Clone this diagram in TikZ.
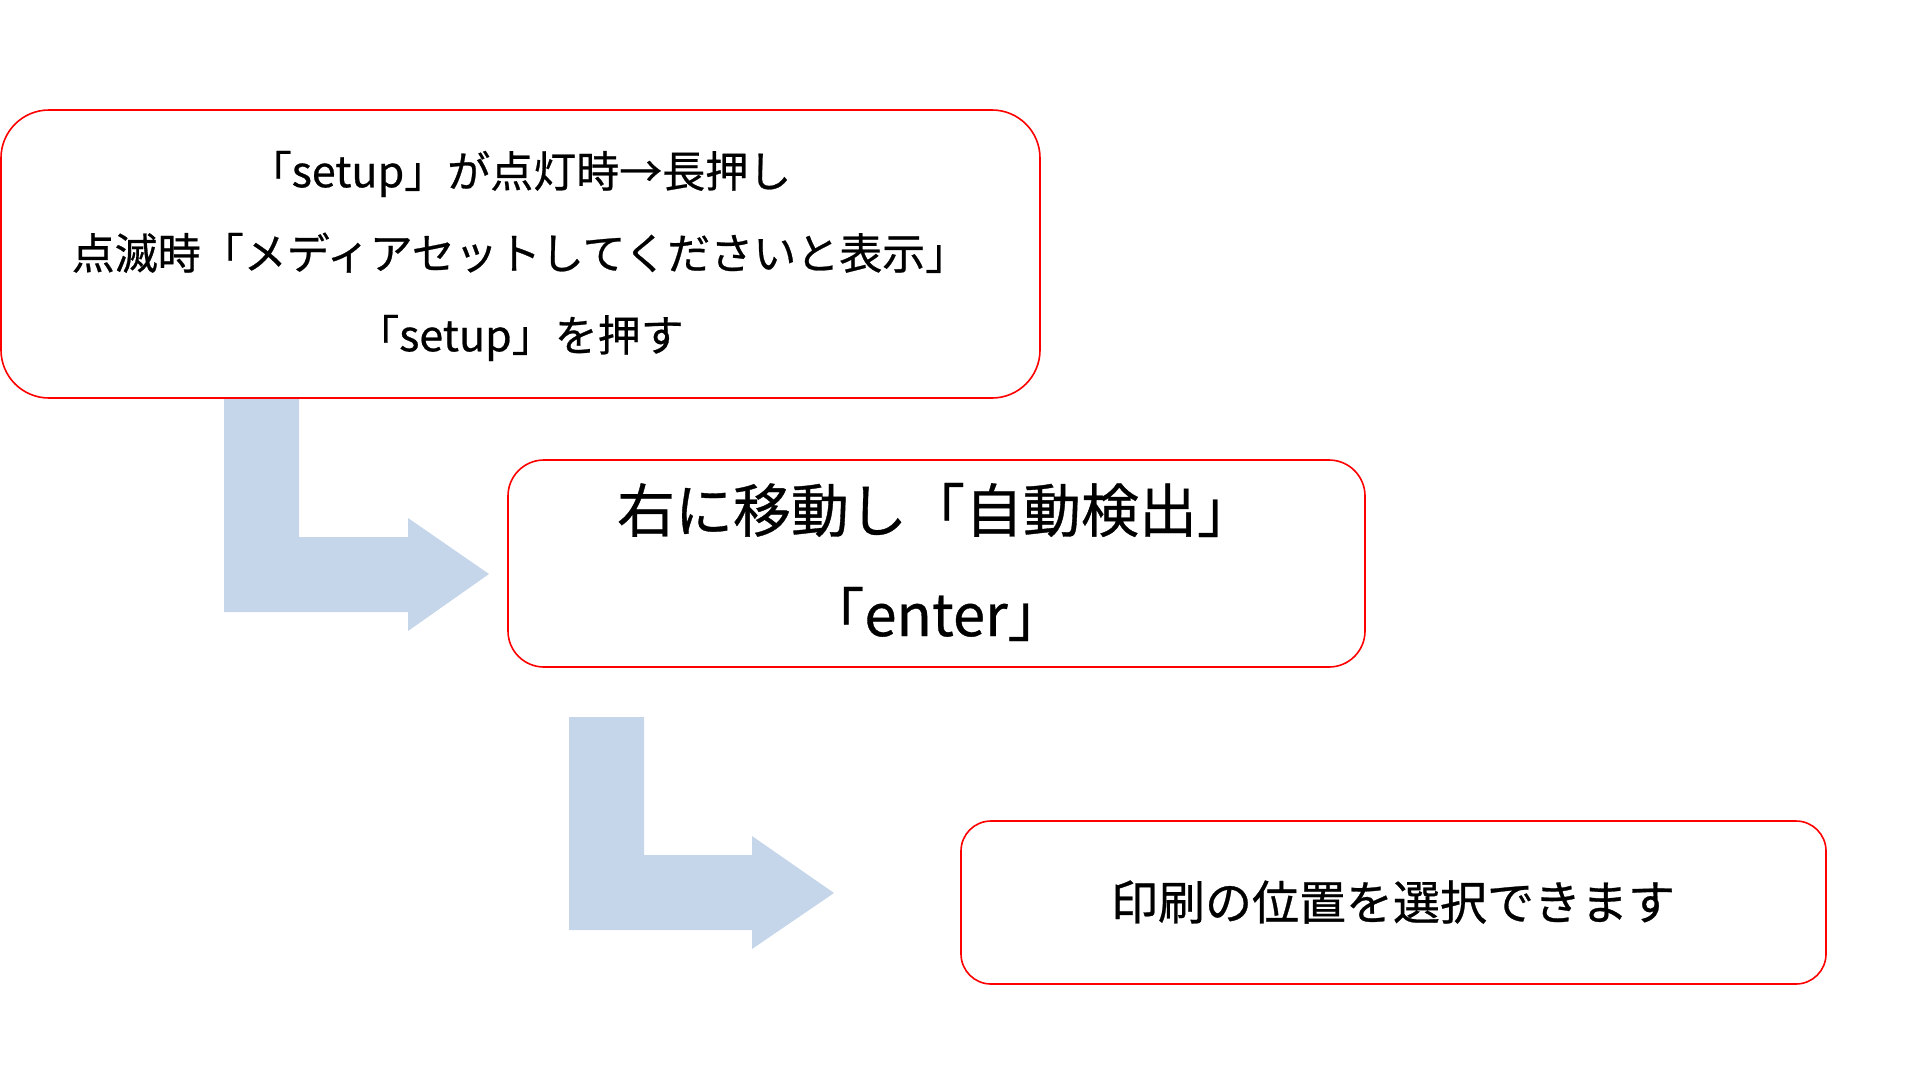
\documentclass[tikz,border=0pt]{standalone}
\usepackage{fontspec}
\setmainfont{Noto Sans CJK JP}[FakeBold=0.6]
\definecolor{arrowblue}{HTML}{C5D5EA}
\definecolor{boxred}{HTML}{FF0000}
\tikzset{
  stepbox/.style={draw=boxred, line width=1.6pt, fill=white, inner sep=0pt, align=center},
  bentarrow/.style={fill=arrowblue, draw=none},
}
\begin{document}
\begin{tikzpicture}[x=1pt,y=-1pt]
\useasboundingbox (0,0) rectangle (1920,1080);
% bent arrows
\path[bentarrow] (224,398) -- (299,398) -- (299,537) -- (408,537) -- (408,518) -- (489,574) -- (408,631) -- (408,612) -- (224,612) -- cycle;
\path[bentarrow] (569,717) -- (644,717) -- (644,855) -- (752,855) -- (752,836) -- (834,893) -- (752,949) -- (752,930) -- (569,930) -- cycle;
% boxes
\draw[stepbox, rounded corners=48pt] (1,110) rectangle (1040,398);
\node[align=center, font=\fontsize{43}{82}\selectfont] (t1) at (520,256) {「setup」が点灯時→長押し\\点滅時「メディアセットしてくださいと表示」\\「setup」を押す};
\draw[stepbox, rounded corners=36pt] (508,460) rectangle (1365,667);
\node[align=center, font=\fontsize{58}{104}\selectfont] (t2) at (936,562) {右に移動し「自動検出」\\「enter」};
\draw[stepbox, rounded corners=30pt] (961,821) rectangle (1826,984);
\node[font=\fontsize{47}{50}\selectfont] (t3) at (1393,902) {印刷の位置を選択できます};
\end{tikzpicture}
\end{document}
